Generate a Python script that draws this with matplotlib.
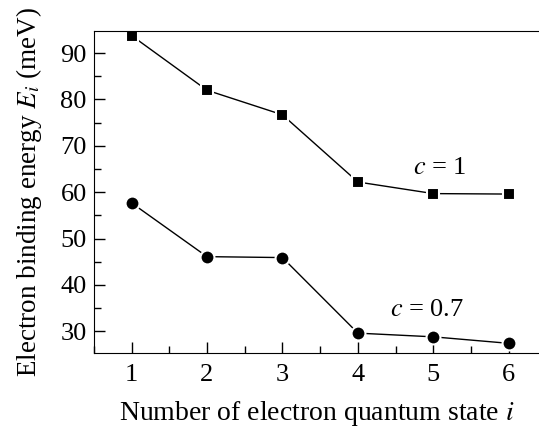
import matplotlib
matplotlib.use("Agg")
import matplotlib.pyplot as plt
from matplotlib.ticker import MultipleLocator

plt.rcParams['font.family'] = ['Liberation Serif', 'DejaVu Serif']
plt.rcParams['mathtext.fontset'] = 'stix'

# data
states = [1, 2, 3, 4, 5, 6]
energy_c1 = [93.8, 82.0, 76.7, 62.2, 59.7, 59.6]
energy_c07 = [57.7, 46.1, 45.9, 29.6, 28.8, 27.4]

fig = plt.figure(figsize=(5.39, 4.29), dpi=100)
ax = fig.add_axes([0.174, 0.177, 0.826, 0.751])

ax.plot(states, energy_c1, color='black', lw=1, marker='s', ms=9,
        mfc='black', mec='white', mew=1.5)
ax.plot(states, energy_c07, color='black', lw=1, marker='o', ms=10,
        mfc='black', mec='white', mew=1.5)

ax.text(5.09, 65.2, r'$c$ = 1', fontsize=19, ha='center', va='center')
ax.text(4.92, 34.6, r'$c$ = 0.7', fontsize=19, ha='center', va='center')

ax.set_xlim(0.5, 6.4)
ax.set_ylim(25.3, 94.8)
ax.xaxis.set_major_locator(MultipleLocator(1))
ax.xaxis.set_minor_locator(MultipleLocator(0.5))
ax.yaxis.set_major_locator(MultipleLocator(10))
ax.yaxis.set_minor_locator(MultipleLocator(5))
ax.tick_params(which='both', direction='in', labelsize=19)
ax.tick_params(which='major', length=8, width=1)
ax.tick_params(which='minor', length=5, width=1)
ax.tick_params(axis='x', pad=8)
ax.tick_params(axis='y', pad=5)
ax.spines['right'].set_visible(False)

ax.set_xlabel(r'Number of electron quantum state $i$', fontsize=20, labelpad=9)
ax.set_ylabel(r'Electron binding energy $E_i$ (meV)', fontsize=19.5, labelpad=12)

fig.savefig('out.png', dpi=100)
